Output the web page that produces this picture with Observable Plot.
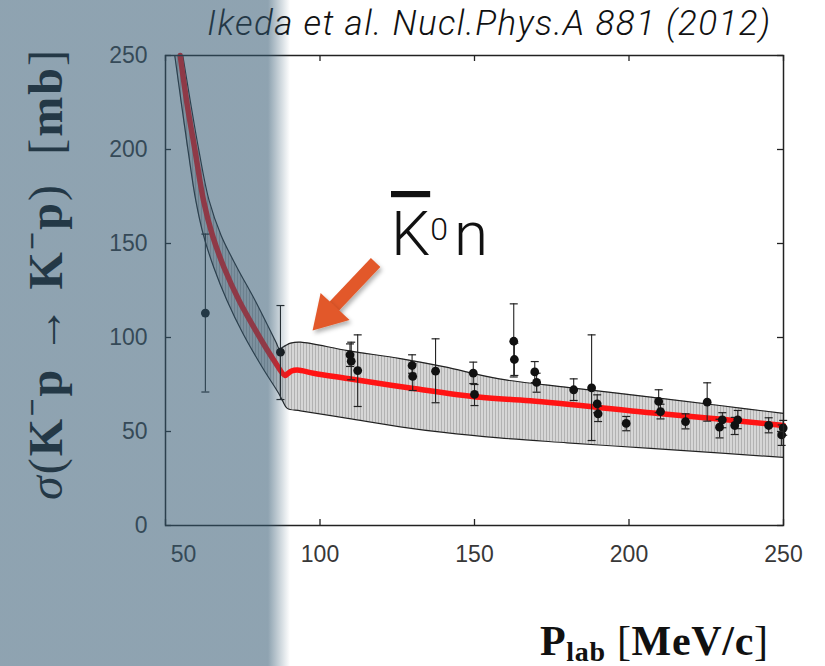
<!DOCTYPE html>
<html>
<head>
<meta charset="utf-8">
<script src="https://cdn.jsdelivr.net/npm/d3@7"></script>
<script src="https://cdn.jsdelivr.net/npm/@observablehq/plot@0.6"></script>
<style>
  html, body { margin: 0; padding: 0; background: #fff; }
  #chart { position: relative; width: 825px; height: 666px; overflow: hidden; }
</style>
</head>
<body>
<div id="chart"></div>
<script>
// ---- tick labels ----
const xTicks = [50, 100, 150, 200, 250];
const yTicks = [0, 50, 100, 150, 200, 250];

// ---- theory curve (red) ----
const curveX = [54.76, 57.0, 59.55, 62.3, 65.2, 68.9, 73.8, 79.8, 85.1, 88.7, 89.6, 90.8, 92.7, 97.9, 108.9, 130.3, 152, 168, 207, 230, 250];
const curveY = [250, 224, 199.5, 172.9, 154.3, 137.4, 119.7, 102, 87.8, 79.8, 80.8, 82.2, 82.7, 81, 78.2, 72.9, 68.2, 66.3, 60, 56.5, 53.2];

// ---- uncertainty band ----
const lowerX = [53.0, 57.3, 59.8, 62.3, 65.6, 69.9, 75.1, 81.3, 86.7, 88.0, 89.4, 93.7, 109, 126, 140, 158, 180, 207, 230, 250];
const lowerY = [250, 199.5, 172.9, 154.3, 137.4, 119.7, 102, 84.2, 70.1, 66, 62.3, 61, 57, 52.5, 49.5, 46.6, 44, 41, 38.5, 36.2];
const upperX = [55.6, 60.8, 64.1, 68.0, 73.1, 79.0, 84.4, 85.9, 86.8, 88.8, 90.5, 93.7, 109, 126, 140, 158, 180, 207, 230, 250];
const upperY = [250, 199.5, 172.9, 154.3, 137.4, 119.7, 102, 97, 94.1, 95.7, 97, 97.5, 93, 88.8, 84.5, 78, 73.5, 68.3, 63.7, 59.6];

// ---- experimental data ----
const dataX  = [62.9, 87.2, 109.7, 110.1, 112.2, 129.8, 130.0, 137.4, 149.6, 150.0, 162.7, 162.9, 169.5, 170.1, 182.1, 187.9, 189.7, 190.0, 199.1, 209.6, 210.2, 218.3, 225.3, 229.3, 230.2, 234.2, 235.2, 245.2, 249.4, 249.9];
const dataY  = [113, 92.2, 90.8, 87.4, 82.4, 85.1, 79.3, 82.1, 81, 69.7, 98, 88.3, 81.7, 76.1, 72.2, 73.2, 64.7, 59.4, 54.3, 66, 60.6, 55.3, 65.6, 52.3, 56.2, 53.2, 56.2, 53.2, 48.2, 51.8];
const dataLo = [71, 67, 84.6, 77.5, 63.3, 81, 71.8, 65.3, 75.5, 63.8, 79, 79.8, 76, 70.9, 66.5, 45.2, 60, 55.3, 50.4, 60, 56.7, 51.4, 55.5, 46.6, 52, 48.4, 51.5, 49.3, 42.6, 48];
const dataHi = [155, 117, 96.6, 97.5, 101.4, 90.8, 86, 99.3, 86.9, 75, 117.9, 97, 87.2, 81, 78, 101.4, 69.5, 63.5, 58, 72.2, 64.5, 59.4, 75.9, 56.5, 60, 57.5, 61.2, 57.3, 53.5, 55.9];

// ---- annotation arrow (data coords) ----
const arrowTail = [118, 139.9];
const arrowBase = [103.9, 115.4];
const arrowTip  = [97.6, 103.7];

// tables built from arrays
const band = lowerX.map((_, i) => ({lx: lowerX[i], ly: lowerY[i], ux: upperX[i], uy: upperY[i]}));
const lower = lowerX.map((x, i) => ({x, y: lowerY[i]}));
const upper = upperX.map((x, i) => ({x, y: upperY[i]}));
const curve = curveX.map((x, i) => ({x, y: curveY[i]}));
const points = dataX.map((x, i) => ({x, y: dataY[i], lo: dataLo[i], hi: dataHi[i]}));

const capSymbol = {
  draw(ctx, size) {
    const r = Math.sqrt(size / Math.PI);
    ctx.moveTo(-r, 0); ctx.lineTo(r, 0);
  }
};
const headSymbol = {
  draw(ctx, size) {
    const r = Math.sqrt(size / Math.PI);
    ctx.moveTo(0, 0); ctx.lineTo(-0.6 * r, r); ctx.lineTo(0.6 * r, r); ctx.closePath();
  }
};

const W = 825, H = 666, mL = 165, mR = 42, mT = 55, mB = 141;
const fw = W - mL - mR, fh = H - mT - mB;

const node = Plot.plot({
  width: W, height: H,
  marginLeft: mL, marginRight: mR, marginTop: mT, marginBottom: mB,
  style: {background: "white", fontFamily: "'Liberation Sans', Arial, sans-serif", fontSize: "23px", color: "#383838", overflow: "visible"},
  x: {domain: [50, 250]},
  y: {domain: [0, 250]},
  marks: [
    Plot.area(band, {x1: "lx", y1: "ly", x2: "ux", y2: "uy", fill: "#c8c8c8", curve: "catmull-rom"}),
    Plot.line(lower, {x: "x", y: "y", stroke: "#222", strokeWidth: 1.2, curve: "catmull-rom"}),
    Plot.line(upper, {x: "x", y: "y", stroke: "#222", strokeWidth: 1.2, curve: "catmull-rom"}),
    Plot.line(curve, {x: "x", y: "y", stroke: "#ff1414", strokeWidth: 5.5, curve: "catmull-rom"}),
    Plot.ruleX(points, {x: "x", y1: "lo", y2: "hi", stroke: "#222", strokeWidth: 1.1}),
    Plot.dot(points, {x: "x", y: "lo", symbol: capSymbol, r: 4, stroke: "#222", fill: "none", strokeWidth: 1.2}),
    Plot.dot(points, {x: "x", y: "hi", symbol: capSymbol, r: 4, stroke: "#222", fill: "none", strokeWidth: 1.2}),
    Plot.dot(points, {x: "x", y: "y", r: 4.4, fill: "#111", stroke: "none"}),
    Plot.frame({stroke: "#222", strokeWidth: 1.5}),
    Plot.tickX(xTicks, {x: d => d, insetTop: fh - 6, stroke: "#222", strokeWidth: 1.3}),
    Plot.tickX(xTicks, {x: d => d, insetBottom: fh - 6, stroke: "#222", strokeWidth: 1.3}),
    Plot.tickY(yTicks, {y: d => d, insetRight: fw - 6, stroke: "#222", strokeWidth: 1.3}),
    Plot.tickY(yTicks, {y: d => d, insetLeft: fw - 6, stroke: "#222", strokeWidth: 1.3}),
    Plot.axisX(xTicks.slice(1), {tickSize: 0, tickPadding: 20, label: null, color: "#383838"}),
    Plot.axisX(xTicks.slice(0, 1), {tickSize: 0, tickPadding: 20, dx: 18, label: null, color: "#383838"}),
    Plot.axisY(yTicks, {tickSize: 0, tickPadding: 18, label: null, color: "#383838"}),
    Plot.link([0], {x1: () => arrowTail[0], y1: () => arrowTail[1], x2: () => arrowBase[0], y2: () => arrowBase[1], stroke: "#e2592a", strokeWidth: 13}),
    Plot.dot([0], {x: () => arrowTip[0], y: () => arrowTip[1], symbol: headSymbol, r: 33, rotate: -137, fill: "#e2592a", stroke: "none"})
  ]
});

const svg = d3.select(node);
const defs = svg.insert("defs", ":first-child");
const pat = defs.append("pattern").attr("id", "hatch").attr("patternUnits", "userSpaceOnUse").attr("width", 3).attr("height", 20);
pat.append("rect").attr("width", 3).attr("height", 20).attr("fill", "#d6d6d6");
pat.append("rect").attr("width", 1).attr("height", 20).attr("fill", "#b2b2b2");
const flt = defs.append("filter").attr("id", "shadow").attr("x", "-30%").attr("y", "-30%").attr("width", "160%").attr("height", "160%");
flt.append("feDropShadow").attr("dx", 2).attr("dy", 3).attr("stdDeviation", 2).attr("flood-color", "#000").attr("flood-opacity", 0.3);
const grad = defs.append("linearGradient").attr("id", "fade").attr("x1", 0).attr("x2", 1).attr("y1", 0).attr("y2", 0);
grad.append("stop").attr("offset", 0).attr("stop-color", "#335871").attr("stop-opacity", 0.55);
grad.append("stop").attr("offset", 268 / 290).attr("stop-color", "#335871").attr("stop-opacity", 0.55);
grad.append("stop").attr("offset", 1).attr("stop-color", "#335871").attr("stop-opacity", 0);

svg.select('g[aria-label="area"]').attr("fill", "url(#hatch)");
svg.selectAll('g[aria-label="link"], g[aria-label="dot"]').filter((d, i, n) => n[i].querySelector("path[transform*='rotate']") || n[i].getAttribute("aria-label") === "link").attr("filter", "url(#shadow)");

// title
svg.append("text")
  .attr("x", 770).attr("y", 35).attr("text-anchor", "end")
  .attr("font-family", "Roboto, 'Liberation Sans', sans-serif").attr("font-weight", 300).attr("font-style", "italic")
  .attr("font-size", 35).attr("fill", "#111").attr("textLength", 563).attr("lengthAdjust", "spacing")
  .text("Ikeda et al. Nucl.Phys.A 881 (2012)");

// y label
const yl = svg.append("text")
  .attr("transform", "translate(62,275) rotate(-90)").attr("text-anchor", "middle")
  .attr("font-family", "'Liberation Serif', 'DejaVu Serif', serif").attr("font-size", 48).attr("fill", "#111")
  .attr("textLength", 450).attr("lengthAdjust", "spacing");
yl.append("tspan").attr("font-style", "italic").text("σ");
yl.append("tspan").text("(");
yl.append("tspan").attr("font-weight", "bold").text("K");
yl.append("tspan").attr("font-weight", "bold").attr("font-size", 32).attr("dy", -19).text("−");
yl.append("tspan").attr("font-weight", "bold").attr("dy", 19).text("p");
yl.append("tspan").text(" → ");
yl.append("tspan").attr("font-weight", "bold").text("K");
yl.append("tspan").attr("font-weight", "bold").attr("font-size", 32).attr("dy", -19).text("−");
yl.append("tspan").attr("font-weight", "bold").attr("dy", 19).text("p");
yl.append("tspan").text(")  [");
yl.append("tspan").attr("font-weight", "bold").text("mb");
yl.append("tspan").text("]");

// x label
const xl = svg.append("text")
  .attr("x", 540).attr("y", 655).attr("text-anchor", "start")
  .attr("font-family", "'Liberation Serif', 'DejaVu Serif', serif").attr("font-size", 42).attr("fill", "#111")
  .attr("textLength", 228).attr("lengthAdjust", "spacing");
xl.append("tspan").attr("font-weight", "bold").text("P");
xl.append("tspan").attr("font-weight", "bold").attr("font-size", 28).attr("dy", 6).text("lab");
xl.append("tspan").attr("dy", -6).text(" [");
xl.append("tspan").attr("font-weight", "bold").text("MeV/c");
xl.append("tspan").text("]");

// annotation K̄0n
const ann = svg.append("text")
  .attr("x", 391).attr("y", 255).attr("text-anchor", "start")
  .attr("font-family", "Roboto, 'Liberation Sans', sans-serif").attr("font-weight", 300)
  .attr("font-size", 62).attr("fill", "#111");
ann.append("tspan").style("text-decoration", "overline").style("text-decoration-thickness", "2px").text("K");
ann.append("tspan").attr("font-size", 32).attr("dy", -15).text("0");
ann.append("tspan").attr("dy", 15).attr("dx", 6).text("n");

// left blue-gray overlay
svg.append("rect").attr("x", 0).attr("y", 0).attr("width", 290).attr("height", H).attr("fill", "url(#fade)").attr("pointer-events", "none");

document.getElementById("chart").appendChild(node);
</script>
</body>
</html>
